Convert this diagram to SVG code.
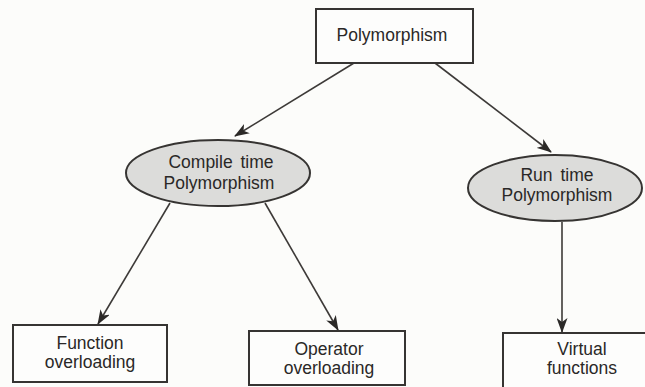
<svg xmlns="http://www.w3.org/2000/svg" width="645" height="387" viewBox="0 0 645 387">
  <style>
    .box { fill: #fdfdfc; stroke: #363432; stroke-width: 2; }
    .ell { fill: #dcdcda; stroke: #363432; stroke-width: 2; }
    .lbl { font-family: "Liberation Sans", Arial, sans-serif; font-size: 17.5px; fill: #2a2827; text-anchor: middle; }
    .conn { stroke: #3d3a38; stroke-width: 1.6; fill: none; marker-end: url(#arrow); }
  </style>
  <defs>
    <marker id="arrow" viewBox="0 0 15 11" refX="14" refY="5.5" markerWidth="15" markerHeight="11" markerUnits="userSpaceOnUse" orient="auto">
      <path d="M0,0 L15,5.5 L0,11 L4,5.5 z" fill="#2b2927"/>
    </marker>
  </defs>
  <rect width="645" height="387" fill="#fcfcfa"/>

  <g id="connectors">
    <line class="conn" x1="354" y1="63" x2="235" y2="136"/>
    <line class="conn" x1="435" y1="63" x2="551" y2="152"/>
    <line class="conn" x1="170" y1="203" x2="98" y2="324"/>
    <line class="conn" x1="265" y1="203" x2="338" y2="330"/>
    <line class="conn" x1="562" y1="222" x2="562" y2="332"/>
  </g>

  <g id="polymorphism">
    <rect class="box" x="316" y="9" width="157" height="54"/>
    <text class="lbl" x="392" y="41">Polymorphism</text>
  </g>

  <g id="compile-time">
    <ellipse class="ell" cx="218" cy="173" rx="92" ry="33"/>
    <text class="lbl" x="221" y="168" word-spacing="3">Compile time</text>
    <text class="lbl" x="219" y="189">Polymorphism</text>
  </g>

  <g id="run-time">
    <ellipse class="ell" cx="555" cy="188" rx="87" ry="33"/>
    <text class="lbl" x="557" y="181" word-spacing="3">Run time</text>
    <text class="lbl" x="557" y="201">Polymorphism</text>
  </g>

  <g id="function-overloading">
    <rect class="box" x="13" y="325" width="154" height="57"/>
    <text class="lbl" x="90" y="349">Function</text>
    <text class="lbl" x="90" y="368">overloading</text>
  </g>

  <g id="operator-overloading">
    <rect class="box" x="249" y="331" width="156" height="54"/>
    <text class="lbl" x="329" y="355">Operator</text>
    <text class="lbl" x="329" y="374">overloading</text>
  </g>

  <g id="virtual-functions">
    <rect class="box" x="503" y="333" width="160" height="70"/>
    <text class="lbl" x="582" y="355">Virtual</text>
    <text class="lbl" x="582" y="374">functions</text>
  </g>
</svg>
